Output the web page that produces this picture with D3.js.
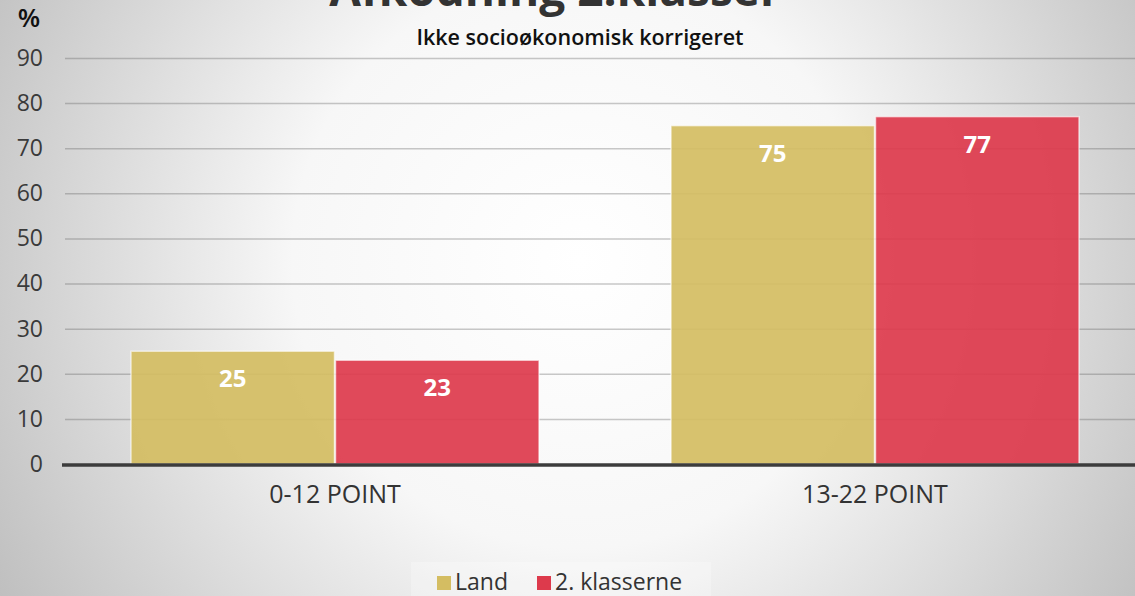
<!DOCTYPE html>
<html><head><meta charset="utf-8">
<script src="https://cdn.jsdelivr.net/npm/d3@7"></script>
<style>html,body{margin:0;padding:0;overflow:hidden;background:#ddd}</style>
</head><body><svg id="c" width="1135" height="596"></svg>
<script>
const categories = ["0-12 POINT", "13-22 POINT"];
const seriesNames = ["Land", "2. klasserne"];
const landValues = [25, 75];
const klasserneValues = [23, 77];
const yTicks = [0, 10, 20, 30, 40, 50, 60, 70, 80, 90];
const colors = ["#d4bd62", "#dd3a4c"];

const W = 1135, H = 596;
const svg = d3.select("#c");
const defs = svg.append("defs");
const rg = defs.append("radialGradient").attr("id","bg").attr("gradientUnits","userSpaceOnUse")
  .attr("cx",580).attr("cy",260).attr("r",720);
rg.append("stop").attr("offset","0%").attr("stop-color","#ffffff");
rg.append("stop").attr("offset","40%").attr("stop-color","#f7f7f7");
rg.append("stop").attr("offset","100%").attr("stop-color","#b8b8b8");
svg.append("rect").attr("width",W).attr("height",H).attr("fill","url(#bg)");

const font = "'Open Sans', 'Noto Sans', sans-serif";
const x0 = d3.scaleBand().domain(categories).range([65, 1145]).paddingInner(0).paddingOuter(0);
const x1 = d3.scaleBand().domain(seriesNames).range([66, x0.bandwidth() - 66]).paddingInner(0.005).paddingOuter(0);
const y = d3.scaleLinear().domain([0, 90]).range([464, 58]);

// grid
const gridG = svg.append("g").attr("transform","translate(65,0)")
  .call(d3.axisLeft(y).tickValues(yTicks.filter(d=>d>0)).tickSize(-1070).tickFormat(""));
gridG.select(".domain").remove();
gridG.selectAll("line").attr("stroke","rgba(90,90,90,0.33)").attr("stroke-width",1.5);

// y labels
const yAx = svg.append("g").attr("transform","translate(43,0)")
  .call(d3.axisLeft(y).tickValues(yTicks).tickSize(0).tickPadding(0));
yAx.select(".domain").remove();
yAx.selectAll("text").attr("font-family",font).attr("font-size",23).attr("fill","#3a3a3a");

svg.append("text").attr("x",29).attr("y",27).attr("text-anchor","middle").attr("font-family",font)
  .attr("font-size",26).attr("font-weight",600).attr("fill","#111").text("%");

const data = categories.map((c,i)=>({cat:c, vals:[landValues[i], klasserneValues[i]]}));
const groups = svg.selectAll("g.grp").data(data).join("g").attr("class","grp")
  .attr("transform",d=>`translate(${x0(d.cat)},0)`);
groups.selectAll("rect").data(d=>d.vals.map((v,j)=>({v,s:seriesNames[j],j}))).join("rect")
  .attr("x",d=>x1(d.s)).attr("width",x1.bandwidth())
  .attr("y",d=>y(d.v)).attr("height",d=>y(0)-y(d.v))
  .attr("fill",d=>colors[d.j]).attr("fill-opacity",0.92)
  .attr("stroke","rgba(255,255,255,0.6)").attr("stroke-width",1.5);
groups.selectAll("text.val").data(d=>d.vals.map((v,j)=>({v,s:seriesNames[j],j}))).join("text")
  .attr("class","val").attr("x",d=>x1(d.s)+x1.bandwidth()/2).attr("y",d=>y(d.v)+36)
  .attr("text-anchor","middle").attr("font-family",font).attr("font-size",24).attr("font-weight",700)
  .attr("fill","#fff").text(d=>d.v);

// x axis
const xAx = svg.append("g").attr("transform","translate(0,464)")
  .call(d3.axisBottom(x0).tickSize(0).tickPadding(0));
xAx.select(".domain").remove();
svg.append("line").attr("x1",62).attr("x2",1135).attr("y1",465).attr("y2",465)
  .attr("stroke","#3c3c3c").attr("stroke-width",3.5);
xAx.selectAll("text").attr("font-family",font).attr("font-size",25).attr("fill","#333")
  .attr("dy",null).attr("y",39);

// title
svg.append("text").attr("x",555).attr("y",6).attr("text-anchor","middle").attr("font-family",font)
  .attr("font-size",46).attr("font-weight",700).attr("fill","#333").text("Afkodning 2.klasser");
svg.append("text").attr("x",580).attr("y",45).attr("text-anchor","middle").attr("font-family",font)
  .attr("font-size",21.5).attr("font-weight",600).attr("fill","#111").text("Ikke socioøkonomisk korrigeret");

// legend
svg.append("rect").attr("x",411).attr("y",562).attr("width",300).attr("height",34).attr("fill","rgba(255,255,255,0.25)");
const lx = [437, 537];
const lg = svg.selectAll("g.leg").data(seriesNames).join("g").attr("class","leg")
  .attr("transform",(d,i)=>`translate(${lx[i]},0)`);
lg.append("rect").attr("x",0).attr("y",576).attr("width",14).attr("height",14).attr("fill",(d,i)=>colors[i]);
lg.append("text").attr("x",18).attr("y",590).attr("font-family",font).attr("font-size",23)
  .attr("fill","#333").text(d=>d);
</script></body></html>
